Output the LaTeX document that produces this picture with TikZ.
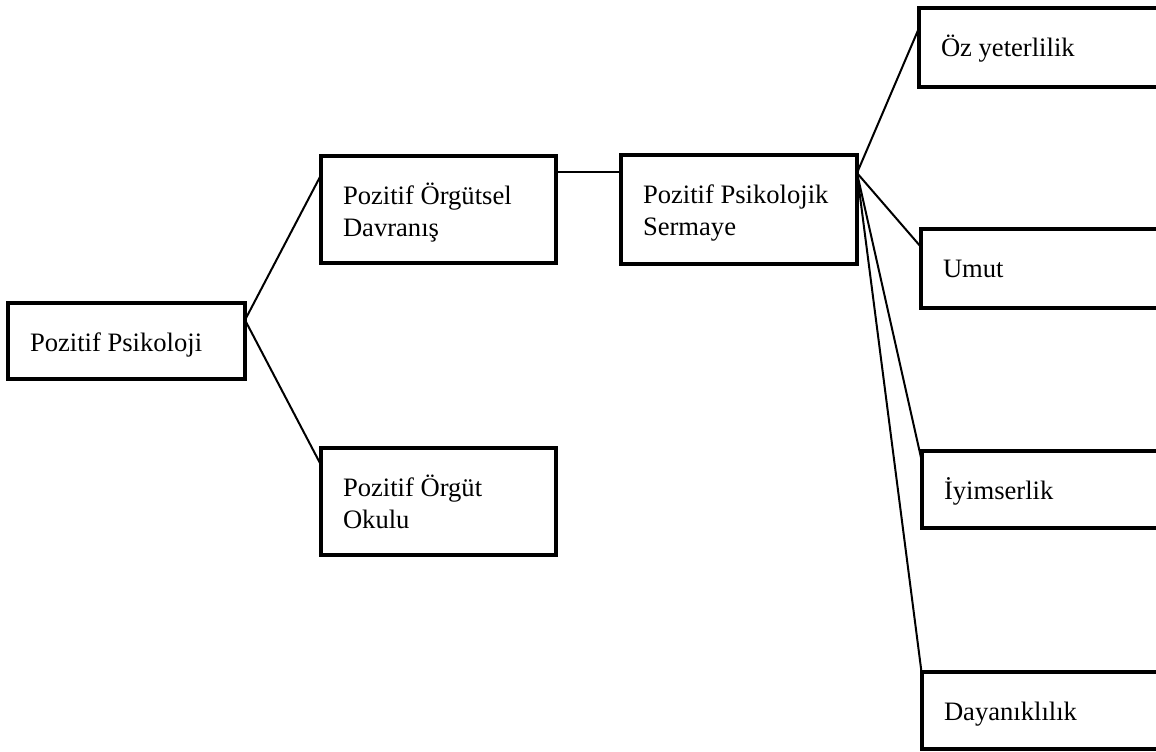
\documentclass[tikz,border=0pt]{standalone}
\usepackage{fontspec}
\setmainfont{Liberation Serif}
\usepackage{tikz}

\newcommand{\boxlines}[3]{\parbox[c][#2][t]{#1}{\raggedright\rule{0pt}{24.3pt}#3}}

\begin{document}
\begin{tikzpicture}[x=0.5pt,y=-0.5pt,
  box/.style={draw,line width=2pt,anchor=north west,inner xsep=11pt,inner ysep=0pt,outer sep=0pt,
    font=\fontsize{13.3}{16}\selectfont},
  link/.style={line width=1pt}]
  \path[use as bounding box,clip] (0,0) rectangle (1156,751);
  \node[box] (pp) at (8,303) {\boxlines{96.5pt}{38pt}{Pozitif Psikoloji}};
  \node[box] (pod) at (321,156) {\boxlines{95.5pt}{53.5pt}{Pozitif Örgütsel\\Davranış}};
  \node[box] (poo) at (321,448) {\boxlines{95.5pt}{53.5pt}{Pozitif Örgüt\\Okulu}};
  \node[box] (pps) at (621,155) {\boxlines{96pt}{54.5pt}{Pozitif Psikolojik\\Sermaye}};
  \node[box] (oz) at (919,8) {\boxlines{103.5pt}{39.5pt}{Öz yeterlilik}};
  \node[box] (umut) at (921,229) {\boxlines{103.5pt}{39.5pt}{Umut}};
  \node[box] (iyi) at (922,451) {\boxlines{103.5pt}{38.5pt}{İyimserlik}};
  \node[box] (day) at (922,672) {\boxlines{103.5pt}{38.5pt}{Dayanıklılık}};
  \draw[link] ([yshift=-8.5pt]pp.north east) -- ([yshift=-9.5pt]pod.north west);
  \draw[link] ([yshift=-8.5pt]pp.north east) -- ([yshift=-8.5pt]poo.north west);
  \draw[link] ([yshift=-8pt]pod.north east) -- ([yshift=-8pt]pod.north east -| pps.west);
  \coordinate (hub) at ([yshift=-9pt]pps.north east);
  \draw[link] (hub) -- ([yshift=-10pt]oz.north west);
  \draw[link] (hub) -- ([yshift=-9pt]umut.north west);
  \draw[link] (hub) -- ([yshift=-5.5pt]iyi.north west);
  \draw[link] (hub) -- ([yshift=-2pt]day.north west);
\end{tikzpicture}
\end{document}
